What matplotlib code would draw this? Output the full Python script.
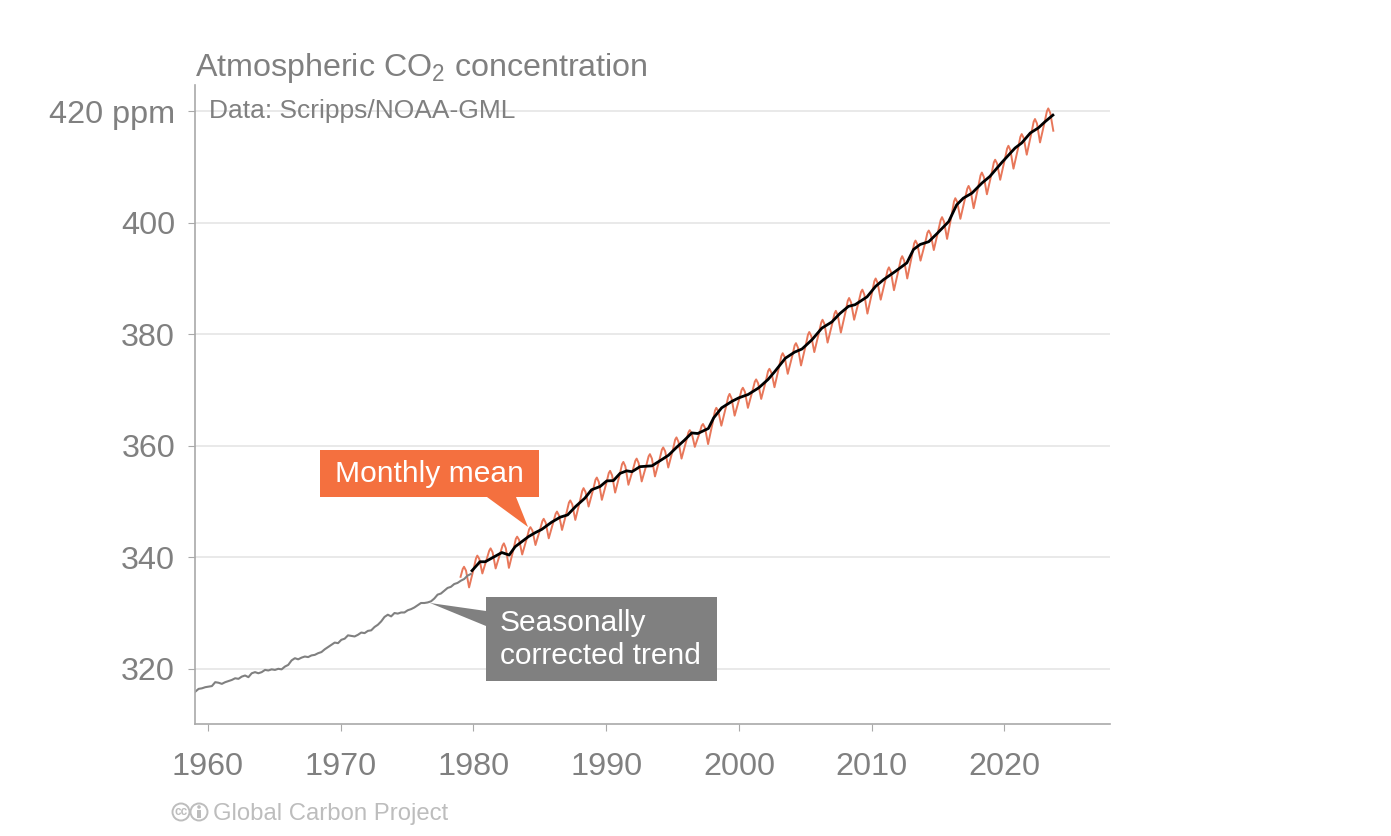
import numpy as np
import matplotlib
matplotlib.use("Agg")
import matplotlib.pyplot as plt
from matplotlib.patches import Polygon, Circle, Rectangle
from matplotlib.transforms import IdentityTransform

plt.rcParams['font.family'] = ['Liberation Sans', 'DejaVu Sans']
plt.rcParams['mathtext.default'] = 'regular'

W, H = 1391, 836

# seasonally corrected trend, four readings a year up to 1979
trend_old_years = list(range(1959, 1980))
trend_old_pos = [0.06, 0.31, 0.56, 0.81]
trend_old_ppm = [
    [315.9, 316.4, 316.5, 316.7],
    [316.8, 316.9, 317.6, 317.5],
    [317.3, 317.6, 317.8, 318.0],
    [318.3, 318.2, 318.6, 318.8],
    [318.5, 319.2, 319.4, 319.2],
    [319.4, 319.8, 319.7, 319.9],
    [319.8, 320.0, 319.9, 320.4],
    [320.7, 321.5, 321.9, 321.7],
    [322.0, 322.2, 322.1, 322.4],
    [322.5, 322.8, 323.0, 323.5],
    [323.9, 324.3, 324.7, 324.6],
    [325.2, 325.4, 326.0, 325.9],
    [325.8, 326.1, 326.5, 326.4],
    [326.8, 326.9, 327.5, 327.9],
    [328.5, 329.3, 329.7, 329.4],
    [330.0, 329.9, 330.1, 330.1],
    [330.5, 330.7, 331.0, 331.4],
    [331.8, 331.8, 331.9, 332.1],
    [332.6, 333.3, 333.5, 334.0],
    [334.5, 334.7, 335.2, 335.4],
    [335.8, 336.1, 336.7, 337.0],
]

trend_new_year = [1979.9, 1980.5, 1980.9, 1981.5, 1982.15, 1982.7, 1983.15, 1983.65, 1984.15, 1984.65,
                  1985.15, 1985.9, 1986.55, 1987.1, 1987.7, 1988.4, 1988.9, 1989.55, 1990.05, 1990.55,
                  1991.05, 1991.55, 1991.95, 1992.55, 1993.45, 1994.05, 1994.7, 1995.3, 1995.9, 1996.45,
                  1996.9, 1997.7, 1998.1, 1998.7, 1999.5, 2000.0, 2000.7, 2001.5, 2002.2, 2002.7,
                  2003.5, 2004.2, 2004.75, 2005.5, 2006.25, 2007.0, 2007.6, 2008.25, 2008.75, 2009.65,
                  2010.3, 2010.9, 2011.8, 2012.65, 2013.15, 2013.65, 2014.3, 2014.9, 2015.8, 2016.4,
                  2016.9, 2017.55, 2018.3, 2018.9, 2019.8, 2020.8, 2021.3, 2021.95, 2022.55, 2023.05,
                  2023.65]
trend_new_ppm = [337.6, 339.2, 339.2, 340.0, 340.85, 340.4, 341.9, 342.8, 343.7, 344.4,
                 345.0, 346.3, 347.2, 347.6, 349.1, 350.6, 352.1, 352.7, 353.7, 353.75,
                 355.05, 355.5, 355.35, 356.25, 356.4, 357.3, 358.3, 359.7, 361.0, 362.3,
                 362.2, 363.1, 365.0, 366.8, 368.0, 368.6, 369.2, 370.4, 371.9, 373.3,
                 375.7, 376.8, 377.35, 379.0, 381.1, 382.2, 383.7, 385.0, 385.3, 386.7,
                 388.6, 389.8, 391.3, 392.8, 395.2, 396.1, 396.6, 398.0, 400.2, 403.2,
                 404.4, 405.3, 407.1, 408.3, 410.8, 413.4, 414.3, 416.1, 417.0, 418.1,
                 419.3]

# monthly mean, six readings a year
month_years = list(range(1979, 2024))
month_pos = [0.04, 0.20, 0.30, 0.45, 0.58, 0.68]
month_ppm = [
    [336.5, 337.9, 338.3, 337.6, 335.9, 334.6],
    [338.1, 339.8, 340.3, 339.7, 338.2, 337.1],
    [339.9, 341.2, 341.6, 340.9, 339.3, 338.0],
    [340.8, 342.1, 342.5, 341.6, 339.6, 338.1],
    [341.6, 343.3, 343.7, 343.1, 341.6, 340.5],
    [343.5, 345.0, 345.4, 344.8, 343.3, 342.2],
    [345.1, 346.5, 346.9, 346.2, 344.6, 343.4],
    [346.4, 347.8, 348.2, 347.5, 346.1, 344.9],
    [348.2, 349.8, 350.2, 349.5, 347.9, 346.7],
    [350.2, 351.9, 352.4, 351.7, 350.3, 349.1],
    [352.3, 353.9, 354.3, 353.5, 351.7, 350.3],
    [353.5, 355.1, 355.5, 354.7, 353.0, 351.6],
    [355.0, 356.7, 357.1, 356.3, 354.4, 353.0],
    [355.9, 357.3, 357.7, 356.9, 355.0, 353.6],
    [356.6, 358.1, 358.5, 357.7, 355.9, 354.5],
    [357.7, 359.3, 359.7, 359.0, 357.4, 356.1],
    [359.4, 361.1, 361.5, 360.7, 359.0, 357.7],
    [360.9, 362.4, 362.8, 362.2, 360.9, 359.8],
    [362.3, 363.6, 363.9, 363.2, 361.6, 360.3],
    [364.3, 366.3, 366.8, 366.2, 364.7, 363.6],
    [367.1, 368.8, 369.3, 368.5, 366.8, 365.4],
    [368.5, 370.0, 370.4, 369.7, 368.1, 366.8],
    [370.0, 371.5, 371.9, 371.2, 369.6, 368.4],
    [371.7, 373.4, 373.8, 373.1, 371.7, 370.5],
    [374.3, 376.1, 376.6, 375.9, 374.2, 372.9],
    [376.3, 378.0, 378.4, 377.6, 375.8, 374.4],
    [378.1, 379.9, 380.4, 379.7, 378.1, 376.8],
    [380.4, 382.1, 382.6, 381.8, 379.9, 378.5],
    [382.0, 383.7, 384.2, 383.4, 381.7, 380.3],
    [384.1, 386.0, 386.5, 385.7, 384.0, 382.6],
    [386.0, 387.6, 388.0, 387.1, 385.2, 383.7],
    [387.6, 389.5, 390.0, 389.2, 387.5, 386.2],
    [389.8, 391.5, 392.0, 391.2, 389.3, 387.9],
    [391.7, 393.5, 394.0, 393.2, 391.4, 390.0],
    [394.2, 396.3, 396.8, 396.1, 394.5, 393.2],
    [396.5, 398.2, 398.6, 397.9, 396.3, 395.1],
    [398.8, 400.5, 401.0, 400.2, 398.5, 397.1],
    [401.6, 403.8, 404.4, 403.7, 402.0, 400.7],
    [404.4, 406.1, 406.6, 405.8, 404.0, 402.6],
    [406.6, 408.5, 409.0, 408.2, 406.5, 405.1],
    [408.9, 410.8, 411.3, 410.6, 409.0, 407.7],
    [411.5, 413.3, 413.8, 413.0, 411.1, 409.7],
    [413.5, 415.4, 415.9, 415.2, 413.5, 412.2],
    [416.2, 418.1, 418.6, 417.8, 415.9, 414.4],
    [418.2, 420.0, 420.5, 419.7, 417.9, 416.5],
]

x_ticks = [1960, 1970, 1980, 1990, 2000, 2010, 2020]
y_ticks = [320, 340, 360, 380, 400, 420]
y_labels = ['320', '340', '360', '380', '400', '420 ppm']

GREY = '#808080'
ORANGE = '#F4703F'


def fx(px):
    return px / W


def fy(py):
    return 1 - py / H


fig = plt.figure(figsize=(W / 100, H / 100), dpi=100, facecolor='white')
ax = fig.add_axes([fx(194.5), fy(724), fx(1110 - 194.5), (724 - 85) / H])
ax.set_xlim(1959.0, 2027.95)
ax.set_ylim(310.1, 424.7)

ax.set_axisbelow(True)
ax.grid(axis='y', color='#E3E3E3', lw=1.1)
ax.grid(axis='x', visible=False)
for s in ['top', 'right']:
    ax.spines[s].set_visible(False)
for s in ['left', 'bottom']:
    ax.spines[s].set_color('#A9A9A9')
    ax.spines[s].set_linewidth(1.2)

ax.set_xticks(x_ticks)
ax.set_yticks(y_ticks, y_labels)
ax.tick_params(axis='x', length=5, width=0.8, color='#A9A9A9', labelcolor=GREY, labelsize=23.3, pad=15)
ax.tick_params(axis='y', length=5, width=0.8, color='#A9A9A9', labelcolor=GREY, labelsize=23.3, pad=9)

old_x = (np.array(trend_old_years)[:, None] + np.array(trend_old_pos)).ravel()
month_x = (np.array(month_years)[:, None] + np.array(month_pos)).ravel()
ax.plot(month_x, np.array(month_ppm).ravel(), color='#E8775A', lw=1.4, solid_joinstyle='round')
ax.plot(old_x, np.array(trend_old_ppm).ravel(), color=GREY, lw=1.5)
ax.plot(trend_new_year, trend_new_ppm, color='black', lw=2.0)

# callouts, placed in pixels of the picture
orange_box = [(320, 450), (539, 450), (539, 497), (516, 497), (528, 527), (487, 497), (320, 497)]
grey_box = [(486, 597), (717, 597), (717, 681), (486, 681), (486, 626), (430, 603), (486, 611)]
fig.add_artist(Polygon([(fx(a), fy(b)) for a, b in orange_box], closed=True, fc=ORANGE, ec='none',
                       transform=fig.transFigure, zorder=5))
fig.add_artist(Polygon([(fx(a), fy(b)) for a, b in grey_box], closed=True, fc=GREY, ec='none',
                       transform=fig.transFigure, zorder=5))
fig.text(fx(429.5), fy(474), 'Monthly mean', color='white', fontsize=21.6, ha='center', va='center', zorder=6)
fig.text(fx(500), fy(623), 'Seasonally', color='white', fontsize=21.5, ha='left', va='center', zorder=6)
fig.text(fx(500), fy(656), 'corrected trend', color='white', fontsize=21.5, ha='left', va='center', zorder=6)

fig.text(fx(195), fy(76), 'Atmospheric CO$_2$ concentration', color=GREY, fontsize=23.2, ha='left', va='baseline')
fig.text(fx(209), fy(118), 'Data: Scripps/NOAA-GML', color=GREY, fontsize=19, ha='left', va='baseline')

# footer with cc logo
fig.text(fx(213), fy(820), 'Global Carbon Project', color='#BDBDBD', fontsize=17.2, ha='left', va='baseline')
for cx in [181, 199]:
    fig.add_artist(Circle((cx, H - 812), 8.5, fc='white', ec='#BDBDBD', lw=1.4, transform=IdentityTransform()))
fig.text(fx(181), fy(812), 'cc', color='#BDBDBD', fontsize=8.5, fontweight='bold', ha='center', va='center')
fig.add_artist(Circle((199, H - 807), 1.8, fc='#BDBDBD', ec='none', transform=IdentityTransform()))
fig.add_artist(Rectangle((197, H - 818), 4, 8.5, fc='#BDBDBD', ec='none', transform=IdentityTransform()))

fig.savefig('out.png', dpi=100, facecolor='white')
